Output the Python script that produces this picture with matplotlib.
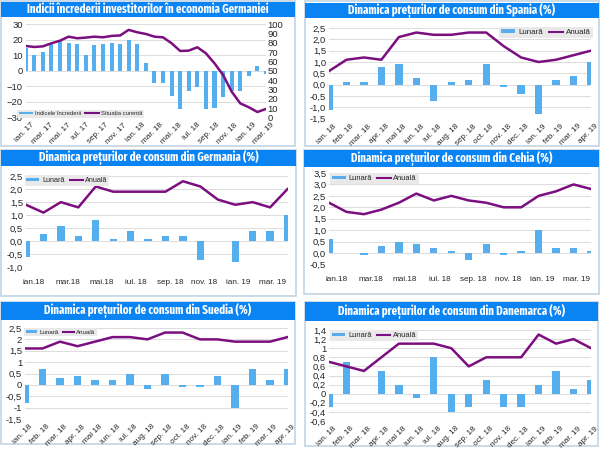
import numpy as np
import matplotlib
matplotlib.use("Agg")
import matplotlib.pyplot as plt
from matplotlib.patches import Rectangle
from matplotlib.transforms import ScaledTranslation

W, H = 600, 449
BLUE, BAR, LINE, GRID = "#0b84f3", "#55aeee", "#7b0f80", "#dcdcdc"
TXT = "#262626"
plt.rcParams['font.family'] = ['Liberation Sans', 'DejaVu Sans']

# ---- data ----
conf_labels = ["ian. 17","mar. 17","mai. 17","iul. 17","sep. 17","nov. 17","ian. 18",
               "mar. 18","mai. 18","iul. 18","sep. 18","nov. 18","ian. 19","mar. 19"]
conf_bars = [15,10,12,18,20,18,17,10,16.5,17,18,17,20,17,5,-8,-8,-16,-24.5,-13,-10.5,
             -24.5,-24,-17,-13,-13,-3.5,3,-2]
conf_line = [76.7,75.6,76.3,79.6,82.4,86.7,85,85.7,86.7,86,87.5,88,94,91.4,89.6,86.7,86,
             79.6,71.3,71.7,75.3,68.8,58,45.5,27.6,15,10.8,5.7,9]

labels_all = ["ian. 18","feb. 18","mar. 18","apr. 18","mai 18","iun. 18","iul. 18","aug. 18",
              "sep. 18","oct. 18","nov. 18","dec. 18","ian. 19","feb. 19","mar. 19","apr. 19"]
labels_even = ["ian.18","mar.18","mai.18","iul. 18","sep. 18","nov. 18","ian. 19","mar. 19"]

es_m = [-1.1,.1,.1,.8,.9,.3,-.7,.1,.2,.9,-.1,-.4,-1.3,.2,.4,1.0]
es_a = [.6,1.1,1.2,1.1,2.1,2.3,2.2,2.2,2.3,2.3,1.7,1.2,1.0,1.1,1.3,1.5]
de_m = [-.6,.3,.6,.2,.8,.1,.4,.1,.2,.2,-.7,0,-.8,.4,.4,1.0]
de_a = [1.4,1.1,1.5,1.3,2.1,1.9,1.9,1.9,1.9,2.3,2.1,1.6,1.4,1.5,1.3,2.0]
cz_m = [.6,0,-.1,.3,.5,.4,.2,.1,-.3,.4,-.1,.1,1.0,.2,.2,.1]
cz_a = [2.2,1.8,1.7,1.9,2.2,2.6,2.3,2.5,2.3,2.2,2.0,2.0,2.5,2.7,3.0,2.8]
se_m = [-.8,.7,.3,.4,.2,.2,.5,-.2,.5,-.1,-.1,.4,-1.0,.7,.2,.7]
se_a = [1.6,1.6,1.9,1.7,1.9,2.1,2.1,2.0,2.3,2.3,2.0,2.0,1.9,1.9,1.9,2.1]
dk_m = [-.3,.7,0,.5,.2,-.1,.8,-.4,-.3,.3,-.3,-.3,.2,.5,.1,.3]
dk_a = [.7,.6,.5,.8,1.1,1.1,1.1,1.0,.6,.8,.8,.8,1.3,1.1,1.2,1.0]

fig = plt.figure(figsize=(W/100, H/100), dpi=100, facecolor="white")

def px_axes(x0, x1, y0, y1):
    return fig.add_axes([x0/W, 1-y1/H, (x1-x0)/W, (y1-y0)/H])

def frame(x0, x1, y0, y1, hy0, hy1, title):
    fig.add_artist(Rectangle((x0/W, 1-y1/H), (x1-x0)/W, (y1-y0)/H, transform=fig.transFigure,
                             fc="white", ec="#c3d3e3", lw=1.2, zorder=-2))
    fig.add_artist(Rectangle((x0/W, 1-hy1/H), (x1-x0)/W, (hy1-hy0)/H, transform=fig.transFigure,
                             fc=BLUE, ec="none", zorder=-1))
    fig.text((x0+x1)/2/W, 1-(hy0+hy1)/2/H, title, color="white", ha="center", va="center",
             fontsize=8.6, fontweight="bold", family=['Fira Sans Extra Condensed', 'Liberation Sans'])

def style(ax, fs=6.8):
    ax.patch.set_alpha(0)
    for s in ax.spines.values():
        s.set_visible(False)
    ax.grid(axis="y", color=GRID, lw=0.7)
    ax.set_axisbelow(True)
    ax.tick_params(length=0, labelsize=fs, colors=TXT, pad=2)

def shift_labels(ax, px):
    off = ScaledTranslation(px/100, 0, fig.dpi_scale_trans)
    for lab in ax.get_xticklabels():
        lab.set_transform(lab.get_transform() + off)

def make_legend(ax, handles, labels, xy, fs, hl=1.8):
    leg = ax.legend(handles, labels, loc="center", bbox_to_anchor=xy, ncol=2, fontsize=fs,
                    frameon=True, facecolor="#e9e9e9", edgecolor="none", framealpha=1,
                    fancybox=False, handlelength=hl, handleheight=0.3, columnspacing=0.7,
                    handletextpad=0.35, borderpad=0.25, borderaxespad=0, labelcolor=TXT)
    leg.get_frame().set_linewidth(0)
    for t in leg.get_lines():
        t.set_linewidth(1.5)
    return leg

def panel(box, yticks, ylabels, months, annual, xlabels, rot, legend_xy, leg_fs=5.8):
    ax = px_axes(*box)
    style(ax)
    x = np.arange(len(months))
    bars = ax.bar(x, months, width=0.42, color=BAR)
    line, = ax.plot(x, annual, color=LINE, lw=1.8, solid_joinstyle="round")
    ax.set_xlim(0, len(months)-1)
    ax.set_ylim(yticks[0], yticks[-1])
    ax.set_yticks(yticks, ylabels)
    if rot:
        ax.set_xticks(x)
        ax.set_xticklabels(xlabels, rotation=45, ha="right", rotation_mode="anchor", fontsize=5.9)
        ax.tick_params(axis="x", pad=3)
        shift_labels(ax, 4)
    else:
        ax.set_xticks(np.linspace(0.45, 14.15, len(xlabels)))
        ax.set_xticklabels(xlabels, fontsize=5.9, ha="center")
        ax.tick_params(axis="x", pad=8.5)
    make_legend(ax, [bars, line], ["Lunară", "Anuală"], legend_xy, leg_fs)
    return ax

# panel 1: German investor confidence (two axes)
frame(1, 295, 1, 146, 2, 16.5, "Indicii încrederii investitorilor în economia Germaniei")
ax = px_axes(25.7, 266, 24.3, 117.3)
style(ax)
x1 = np.arange(len(conf_bars))
b1 = ax.bar(x1, conf_bars, width=0.47, color=BAR)
ax.set_xlim(0, len(conf_bars)-1)
ax.set_ylim(-30, 30)
ax.set_yticks(np.arange(-30, 31, 10))
ax.set_xticks(np.linspace(0, len(conf_bars)-1, len(conf_labels)))
ax.set_xticklabels(conf_labels, rotation=45, ha="right", rotation_mode="anchor", fontsize=5.9)
ax.tick_params(axis="x", pad=3)
shift_labels(ax, 5)
ax2 = ax.twinx()
ax2.patch.set_alpha(0)
for s in ax2.spines.values():
    s.set_visible(False)
l1, = ax2.plot(x1, conf_line, color=LINE, lw=1.8)
ax2.set_ylim(0, 100)
ax2.set_yticks(np.arange(0, 101, 10))
ax2.tick_params(length=0, labelsize=6.8, colors=TXT, pad=1)
make_legend(ax2, [b1, l1], ["Indicele încrederii", "Situația curentă"], (0.228, 0.04), 4.2, hl=2.4)

# Spain
frame(305, 599, 1, 146, 3, 17.5, "Dinamica prețurilor de consum din Spania (%)")
panel((329, 591, 28, 118.7), np.arange(-1.5, 2.6, .5),
      ["-1,5","-1,0","-0,5","0,0","0,5","1,0","1,5","2,0","2,5"],
      es_m, es_a, labels_all, True, (0.828, 0.95))

# Germany
frame(1, 296, 150, 296, 150, 166, "Dinamica prețurilor de consum din Germania (%)")
panel((26, 287.5, 176, 267.5), np.arange(-1, 2.6, .5),
      ["-1,0","-0,5","0,0","0,5","1,0","1,5","2,0","2,5"],
      de_m, de_a, labels_even, False, (0.157, 0.95), leg_fs=5.2)

# Czechia
frame(304, 599, 150, 294, 150, 167, "Dinamica prețurilor de consum din Cehia (%)")
panel((329, 591, 173, 264.5), np.arange(-.5, 3.6, .5),
      ["-0,5","0,0","0,5","1,0","1,5","2,0","2,5","3,0","3,5"],
      cz_m, cz_a, labels_even, False, (0.174, 0.94), leg_fs=5.4)

# Sweden
frame(1, 295, 302, 444, 302, 320, "Dinamica prețurilor de consum din Suedia (%)")
panel((25, 287.5, 328, 419), np.arange(-1.5, 2.6, .5),
      ["-1,5","-1","-0,5","0","0,5","1","1,5","2","2,5"],
      se_m, se_a, labels_all, True, (0.135, 0.956), leg_fs=4.5)

# Denmark
frame(305, 598, 302, 446, 302, 321, "Dinamica prețurilor de consum din Danemarca (%)")
panel((329, 591, 330, 421), np.arange(-.6, 1.41, .2),
      ["-0,6","-0,4","-0,2","0","0,2","0,4","0,6","0,8","1","1,2","1,4"],
      dk_m, dk_a, labels_all, True, (0.172, 0.94), leg_fs=5.4)

fig.savefig("out.png", dpi=100)
